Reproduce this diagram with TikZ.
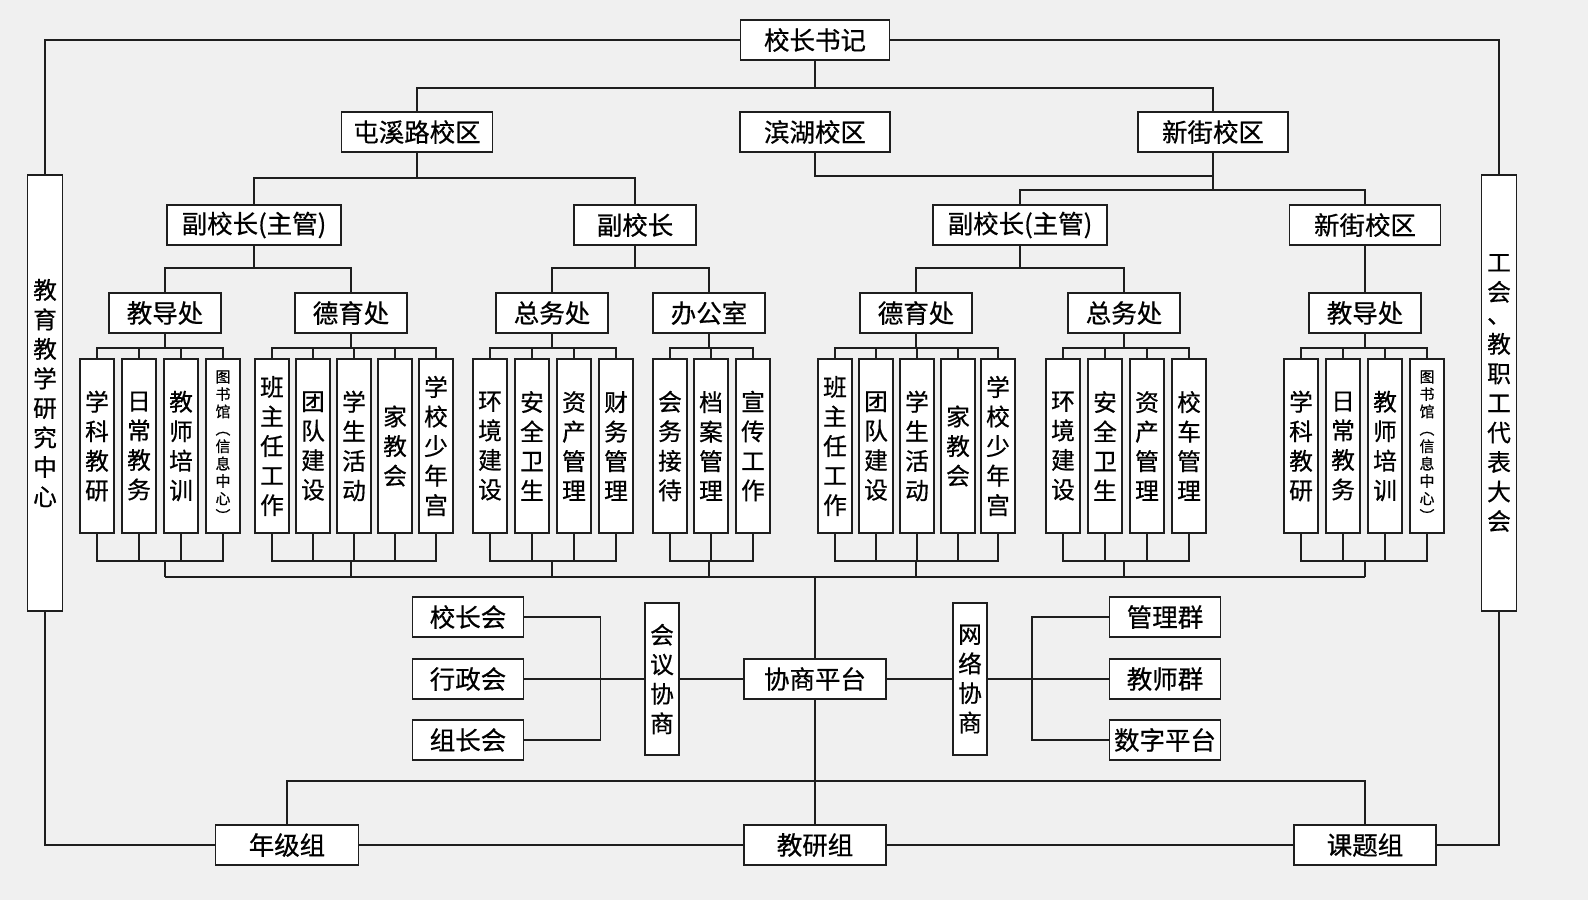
\documentclass[tikz,border=0pt]{standalone}
\usepackage{fontspec}
\newfontfamily\cjk[FakeBold=0.6]{Noto Sans CJK SC}
\usepackage{tikz}
\definecolor{paper}{RGB}{240,240,240}
\definecolor{ink}{RGB}{30,30,30}
\tikzstyle{wire} = [line width=1.1pt, draw=ink]
\tikzstyle{unitbox} = [draw=ink, fill=white, line width=1.1pt, inner sep=0pt,
  minimum height=8mm, font=\cjk\fontsize{14.5}{16}\selectfont]
\tikzstyle{colbox} = [draw=ink, fill=white, line width=1.1pt, inner sep=0pt,
  minimum width=6.8mm, minimum height=34.8mm, align=center,
  font=\cjk\fontsize{13.5}{16.8}\selectfont]
\tikzstyle{libbox} = [colbox, font=\cjk\fontsize{8.5}{9.9}\selectfont]
\tikzstyle{tallbox} = [colbox, minimum width=7mm, minimum height=87.2mm]

\begin{document}
\begin{tikzpicture}[x=0.2mm, y=-0.2mm]
  \fill[paper] (0,0) rectangle (1588,900);
  \useasboundingbox (0,0) rectangle (1588,900);

  % head and campuses
  \node[unitbox, minimum width=29.8mm] (head) at (815,40) {校长书记};
  \node[unitbox, minimum width=30.2mm] (campTX) at (417,132) {屯溪路校区};
  \node[unitbox, minimum width=30mm] (campBH) at (815,132) {滨湖校区};
  \node[unitbox, minimum width=30mm] (campXJ) at (1213,132) {新街校区};
  \draw[wire] (head.south) -- ++(0,27) -| (campTX.north);
  \draw[wire] (head.south) -- ++(0,27) -| (campXJ.north);
  \draw[wire] (campBH.south) -- ++(0,23) -| (campXJ.south);

  % vice heads
  \node[unitbox, minimum width=34.8mm] (vpA) at (254,225) {副校长(主管)};
  \node[unitbox, minimum width=24.4mm] (vpB) at (635,225) {副校长};
  \node[unitbox, minimum width=34.8mm] (vpC) at (1020,225) {副校长(主管)};
  \node[unitbox, minimum width=30.2mm] (vpD) at (1365,225) {新街校区};
  \draw[wire] (campTX.south) -- ++(0,25) -| (vpA.north);
  \draw[wire] (campTX.south) -- ++(0,25) -| (vpB.north);
  \draw[wire] (campXJ.south) -- ++(0,37) -| (vpC.north);
  \draw[wire] (campXJ.south) -- ++(0,37) -| (vpD.north);

  % offices
  \node[unitbox, minimum width=22.4mm] (jdA) at (165,313) {教导处};
  \node[unitbox, minimum width=22.4mm] (dyA) at (351,313) {德育处};
  \node[unitbox, minimum width=22.4mm] (zwA) at (552,313) {总务处};
  \node[unitbox, minimum width=22.4mm] (bgs) at (709,313) {办公室};
  \node[unitbox, minimum width=22.4mm] (dyB) at (916,313) {德育处};
  \node[unitbox, minimum width=22.4mm] (zwB) at (1124,313) {总务处};
  \node[unitbox, minimum width=22.4mm] (jdB) at (1365,313) {教导处};
  \draw[wire] (vpA.south) -- ++(0,22) -| (jdA.north);
  \draw[wire] (vpA.south) -- ++(0,22) -| (dyA.north);
  \draw[wire] (vpB.south) -- ++(0,22) -| (zwA.north);
  \draw[wire] (vpB.south) -- ++(0,22) -| (bgs.north);
  \draw[wire] (vpC.south) -- ++(0,22) -| (dyB.north);
  \draw[wire] (vpC.south) -- ++(0,22) -| (zwB.north);
  \draw[wire] (vpD.south) -- (jdB.north);

  % bus under the columns
  \coordinate (bus1) at (jdA |- 0,577);
  \coordinate (bus2) at (dyA |- 0,577);
  \coordinate (bus3) at (zwA |- 0,577);
  \coordinate (bus4) at (bgs |- 0,577);
  \coordinate (bus5) at (dyB |- 0,577);
  \coordinate (bus6) at (zwB |- 0,577);
  \coordinate (bus7) at (jdB |- 0,577);

  % columns
  \foreach \x/\t/\s [count=\i] in {97/学\\科\\教\\研/colbox, 139/日\\常\\教\\务/colbox,
    181/教\\师\\培\\训/colbox, 223/图\\书\\馆\\︵\\信\\息\\中\\心\\︶/libbox} {
    \node[\s] (ga\i) at (\x,446) {\t};
    \draw[wire] (jdA.south) |- ([yshift=2mm]ga\i.north) -- (ga\i.north);
    \draw[wire] (ga\i.south) -- ++(0,27) -| (bus1);
  }
  \foreach \x/\t [count=\i] in {272/班\\主\\任\\工\\作, 313/团\\队\\建\\设,
    354/学\\生\\活\\动, 395/家\\教\\会, 436/学\\校\\少\\年\\宫} {
    \node[colbox] (gb\i) at (\x,446) {\t};
    \draw[wire] (dyA.south) |- ([yshift=2mm]gb\i.north) -- (gb\i.north);
    \draw[wire] (gb\i.south) -- ++(0,27) -| (bus2);
  }
  \foreach \x/\t [count=\i] in {490/环\\境\\建\\设, 532/安\\全\\卫\\生,
    574/资\\产\\管\\理, 616/财\\务\\管\\理} {
    \node[colbox] (gc\i) at (\x,446) {\t};
    \draw[wire] (zwA.south) |- ([yshift=2mm]gc\i.north) -- (gc\i.north);
    \draw[wire] (gc\i.south) -- ++(0,27) -| (bus3);
  }
  \foreach \x/\t [count=\i] in {670/会\\务\\接\\待, 711/档\\案\\管\\理, 753/宣\\传\\工\\作} {
    \node[colbox] (gd\i) at (\x,446) {\t};
    \draw[wire] (bgs.south) |- ([yshift=2mm]gd\i.north) -- (gd\i.north);
    \draw[wire] (gd\i.south) -- ++(0,27) -| (bus4);
  }
  \foreach \x/\t [count=\i] in {835/班\\主\\任\\工\\作, 876/团\\队\\建\\设,
    917/学\\生\\活\\动, 958/家\\教\\会, 998/学\\校\\少\\年\\宫} {
    \node[colbox] (ge\i) at (\x,446) {\t};
    \draw[wire] (dyB.south) |- ([yshift=2mm]ge\i.north) -- (ge\i.north);
    \draw[wire] (ge\i.south) -- ++(0,27) -| (bus5);
  }
  \foreach \x/\t [count=\i] in {1063/环\\境\\建\\设, 1105/安\\全\\卫\\生,
    1147/资\\产\\管\\理, 1189/校\\车\\管\\理} {
    \node[colbox] (gf\i) at (\x,446) {\t};
    \draw[wire] (zwB.south) |- ([yshift=2mm]gf\i.north) -- (gf\i.north);
    \draw[wire] (gf\i.south) -- ++(0,27) -| (bus6);
  }
  \foreach \x/\t/\s [count=\i] in {1301/学\\科\\教\\研/colbox, 1343/日\\常\\教\\务/colbox,
    1385/教\\师\\培\\训/colbox, 1427/图\\书\\馆\\︵\\信\\息\\中\\心\\︶/libbox} {
    \node[\s] (gg\i) at (\x,446) {\t};
    \draw[wire] (jdB.south) |- ([yshift=2mm]gg\i.north) -- (gg\i.north);
    \draw[wire] (gg\i.south) -- ++(0,27) -| (bus7);
  }
  \draw[wire] (bus1) -- (bus7);

  % side columns and bottom groups
  \node[tallbox] (lcol) at (45,393) {教\\育\\教\\学\\研\\究\\中\\心};
  \node[tallbox] (rcol) at (1499,393) {工\\会\\[-1.4mm]、\\教\\职\\工\\代\\表\\大\\会};
  \node[unitbox, minimum width=28.6mm] (grade) at (287,845) {年级组};
  \node[unitbox, minimum width=28.4mm] (research) at (815,845) {教研组};
  \node[unitbox, minimum width=28.4mm] (topic) at (1365,845) {课题组};
  \draw[wire] (head.west) -| (lcol.north);
  \draw[wire] (head.east) -| (rcol.north);
  \draw[wire] (lcol.south) |- (grade.west);
  \draw[wire] (grade.east) -- (research.west);
  \draw[wire] (research.east) -- (topic.west);
  \draw[wire] (topic.east) -| (rcol.south);
  \draw[wire] (grade.north) -- ++(0,-43) -| (topic.north);

  % consultation
  \node[unitbox, minimum width=28.4mm] (consult) at (815,679) {协商平台};
  \node[colbox, minimum height=30.4mm] (meetBox) at (662,679) {会\\议\\协\\商};
  \node[colbox, minimum height=30.4mm] (netBox) at (970,679) {网\\络\\协\\商};
  \node[unitbox, minimum width=22.2mm] (meetHead) at (468,617) {校长会};
  \node[unitbox, minimum width=22.2mm] (meetAdmin) at (468,679) {行政会};
  \node[unitbox, minimum width=22.2mm] (meetLead) at (468,740) {组长会};
  \node[unitbox, minimum width=22.2mm] (grpMgmt) at (1165,617) {管理群};
  \node[unitbox, minimum width=22.2mm] (grpTeach) at (1165,679) {教师群};
  \node[unitbox, minimum width=22.2mm] (grpDigital) at (1165,740) {数字平台};
  \draw[wire] (consult.north) -- (consult.north |- bus1);
  \draw[wire] (consult.south) -- (research.north);
  \draw[wire] (meetHead.east) -- ++(76,0) |- (meetLead.east);
  \draw[wire] (meetAdmin.east) -- (meetBox.west);
  \draw[wire] (meetBox.east) -- (consult.west);
  \draw[wire] (consult.east) -- (netBox.west);
  \draw[wire] (netBox.east) -- (grpTeach.west);
  \draw[wire] (grpMgmt.west) -- ++(-77,0) |- (grpDigital.west);
\end{tikzpicture}
\end{document}
